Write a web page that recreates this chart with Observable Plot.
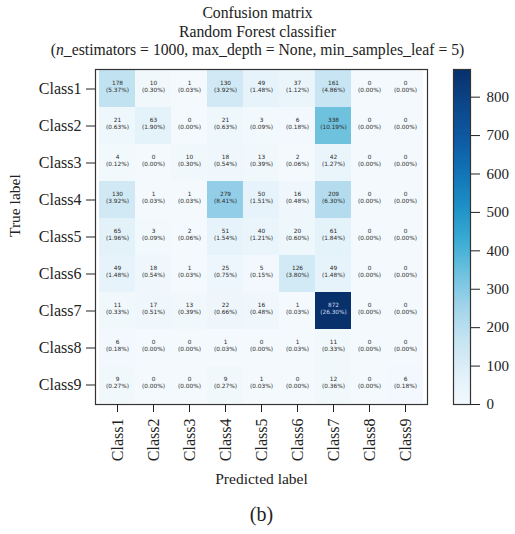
<!DOCTYPE html>
<html>
<head>
<meta charset="utf-8">
<script src="https://cdn.jsdelivr.net/npm/d3@7"></script>
<script src="https://cdn.jsdelivr.net/npm/@observablehq/plot@0.6"></script>
<style>
  html, body { margin: 0; padding: 0; background: #fff; }
  #wrap { position: relative; width: 515px; height: 534px; overflow: hidden; }
  #wrap svg { position: absolute; top: 0; background: transparent; }
  #title {
    position: absolute; left: 0; top: 4px; width: 515px; text-align: center;
    font-family: "Liberation Serif", serif; font-size: 15.7px; line-height: 18.5px; color: #222;
  }
</style>
</head>
<body>
<div id="wrap">
  <div id="title">
    Confusion matrix<br>
    Random Forest classifier<br>
    (<i>n</i>_estimators = 1000, max_depth = None, min_samples_leaf = 5)
  </div>
</div>
<script>
// Class names shared by both axes
const classes = ["Class1", "Class2", "Class3", "Class4", "Class5", "Class6", "Class7", "Class8", "Class9"];

// Confusion counts: one row per true label, one column per predicted label
const counts = [
  [178, 10, 1, 130, 49, 37, 161, 0, 0],
  [21, 63, 0, 21, 3, 6, 338, 0, 0],
  [4, 0, 10, 18, 13, 2, 42, 0, 0],
  [130, 1, 1, 279, 50, 16, 209, 0, 0],
  [65, 3, 2, 51, 40, 20, 61, 0, 0],
  [49, 18, 1, 25, 5, 126, 49, 0, 0],
  [11, 17, 13, 22, 16, 1, 872, 0, 0],
  [6, 0, 0, 1, 0, 1, 11, 0, 0],
  [9, 0, 0, 9, 1, 0, 12, 0, 6]
];

// Colour bar tick values
const colorTicks = [0, 100, 200, 300, 400, 500, 600, 700, 800];

// Blue ramp stops (fraction of the maximum count -> colour)
const rampStops = [0, 0.1, 0.2, 0.3, 0.4, 0.5, 0.6, 0.7, 0.8, 0.9, 1];
const rampColors = ["#f3f9fd", "#deeff8", "#c3e3f1", "#9dd2e9", "#68c0dd", "#35a9d2",
                    "#1b8dc5", "#1171b5", "#0d58a1", "#0b4588", "#08306b"];

const total = d3.sum(counts.flat());
const vmax = d3.max(counts.flat());

const cells = [];
counts.forEach((row, i) => row.forEach((c, j) => cells.push({
  truth: classes[i],
  pred: classes[j],
  count: c,
  pct: (100 * c / total).toFixed(2) + "%"
})));

const colorScale = {
  type: "linear",
  domain: rampStops.map(s => s * vmax),
  range: rampColors,
  interpolate: "rgb"
};

const label = d => `${d.count}\n(${d.pct})`;
const dark = d => d.count > vmax * 0.5;

const wrap = document.getElementById("wrap");

const matrix = Plot.plot({
  width: 515,
  height: 534,
  marginTop: 69,
  marginBottom: 130,
  marginLeft: 95,
  marginRight: 88,
  style: { fontFamily: "Liberation Serif", fontSize: "16px", color: "#222", background: "transparent" },
  x: { domain: classes, padding: 0, label: null },
  y: { domain: classes, padding: 0, label: null },
  color: colorScale,
  marks: [
    Plot.cell(cells, { x: "pred", y: "truth", fill: "count" }),
    Plot.text(cells.filter(d => !dark(d)), {
      x: "pred", y: "truth", text: label, dy: -3,
      fontFamily: "DejaVu Sans", fontSize: 5.8, lineHeight: 1.35, fill: "#2a2a2a"
    }),
    Plot.text(cells.filter(dark), {
      x: "pred", y: "truth", text: label, dy: -3,
      fontFamily: "DejaVu Sans", fontSize: 5.8, lineHeight: 1.35, fill: "#cfdcef"
    }),
    Plot.frame({ stroke: "#333", strokeWidth: 1.2 }),
    Plot.axisY({ tickSize: 9, tickPadding: 5, label: null, fontSize: 16 }),
    Plot.axisX({ tickSize: 8, tickPadding: 6, tickRotate: -90, label: null, fontSize: 16 }),
    Plot.text(["True label"], { frameAnchor: "left", dx: -80, rotate: -90, fontSize: 15.5, fill: "#222" }),
    Plot.text(["Predicted label"], { frameAnchor: "bottom", dy: 79, fontSize: 15.5, fill: "#222" }),
    Plot.text(["(b)"], { frameAnchor: "bottom", dy: 116, fontSize: 20, fill: "#222" })
  ]
});
matrix.style.left = "0px";
wrap.appendChild(matrix);

// Vertical colour bar drawn with the same colour scale
const steps = d3.range(0, vmax, 1);
const colorbar = Plot.plot({
  width: 63,
  height: 534,
  marginTop: 69,
  marginBottom: 130,
  marginLeft: 1,
  marginRight: 45,
  style: { fontFamily: "Liberation Serif", fontSize: "15px", color: "#222", background: "transparent" },
  x: { domain: [0, 1], axis: null },
  y: { domain: [0, vmax], axis: null },
  color: colorScale,
  marks: [
    Plot.rect(steps, { x1: 0, x2: 1, y1: d => d, y2: d => Math.min(d + 1.5, vmax), fill: d => d + 0.5, shapeRendering: "crispEdges" }),
    Plot.frame({ stroke: "#333", strokeWidth: 1.2 }),
    Plot.axisY(colorTicks, { anchor: "right", tickSize: 9, tickPadding: 7, label: null, fontSize: 15 })
  ]
});
colorbar.style.left = "452px";
wrap.appendChild(colorbar);
</script>
</body>
</html>
